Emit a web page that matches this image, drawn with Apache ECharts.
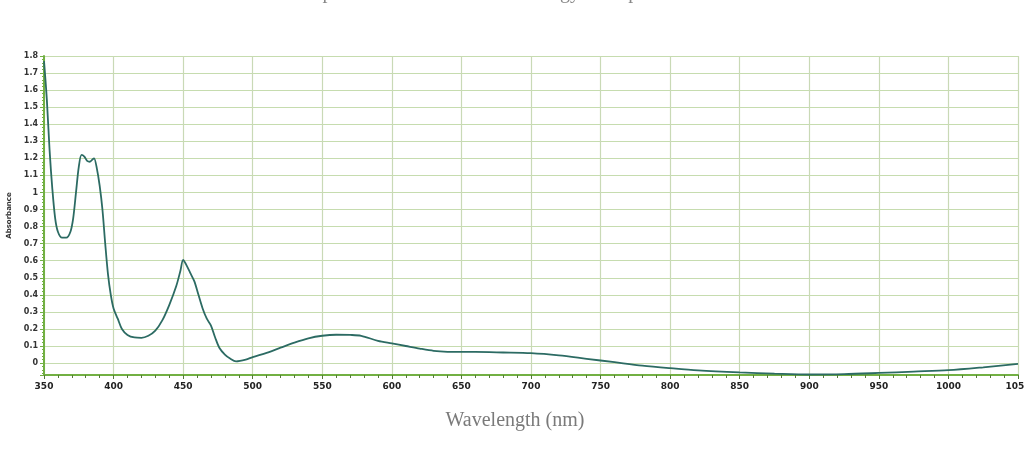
<!DOCTYPE html>
<html style="height: 100%">
    <head>
        <meta charset="utf-8">
    </head>
    <body style="height: 100%; margin: 0; background: #fff">
        <div id="container" style="height: 100%"></div>

        <script type="text/javascript" src="https://cdn.jsdelivr.net/npm/echarts@6/dist/echarts.min.js"></script>
        <script type="text/javascript">

// wavelength (nm) and absorbance
var wavelengths = [350, 352, 354, 356, 358, 360, 363, 366, 369, 371, 373, 375, 377, 379, 381, 383, 385, 386, 388, 390,
    392, 394, 396, 398, 400, 403, 406, 410, 415, 420, 425, 430, 435, 440, 445, 448, 450, 452, 455, 458,
    461, 464, 467, 470, 473, 476, 480, 484, 488, 495, 500, 510, 520, 530, 540, 550, 560, 570, 578, 590,
    600, 610, 620, 630, 640, 650, 660, 680, 700, 720, 740, 760, 780, 800, 820, 850, 875, 900, 925, 950,
    975, 1000, 1025, 1050];
var absorbance = [1.77, 1.55, 1.25, 1.02, 0.85, 0.77, 0.735, 0.735, 0.77, 0.85, 1.00, 1.15, 1.22, 1.21, 1.185, 1.18, 1.195, 1.20, 1.14, 1.04,
    0.90, 0.70, 0.52, 0.40, 0.32, 0.26, 0.20, 0.165, 0.15, 0.148, 0.16, 0.19, 0.25, 0.34, 0.45, 0.54, 0.605, 0.58, 0.53, 0.48,
    0.40, 0.32, 0.26, 0.22, 0.15, 0.09, 0.05, 0.025, 0.01, 0.02, 0.035, 0.06, 0.09, 0.12, 0.145, 0.16, 0.166, 0.165, 0.16, 0.13,
    0.115, 0.10, 0.085, 0.072, 0.066, 0.065, 0.065, 0.062, 0.058, 0.045, 0.025, 0.005, -0.015, -0.03, -0.043, -0.055, -0.062, -0.067, -0.065, -0.058,
    -0.05, -0.042, -0.025, -0.005];

var xMin = 350, xMax = 1050, xStep = 50;
var yMin = -0.07, yMax = 1.8;

var dom = document.getElementById("container");
var myChart = echarts.init(dom);

var points = wavelengths.map(function (w, i) { return [w, absorbance[i]]; });

var axisGreen = '#72b043';
var labelFont = 'DejaVu Sans';

option = {
    animation: false,
    grid: { left: 44, right: 6, top: 56, bottom: 84, outerBoundsMode: 'none', containLabel: false },
    graphic: [
        {
            // caption above the chart, cut off by the top edge
            type: 'text',
            x: 214,
            y: 3,
            style: {
                text: 'UV-Vis absorption of the dimer at low energy absorption band',
                font: '20px "Liberation Serif"',
                fill: '#888',
                align: 'left',
                verticalAlign: 'bottom'
            }
        },
        {
            type: 'text',
            x: 515,
            y: 421,
            style: {
                text: 'Wavelength (nm)',
                font: '20px "Liberation Serif"',
                fill: '#7a7a7a',
                align: 'center',
                verticalAlign: 'middle'
            }
        }
    ],
    xAxis: {
        type: 'value',
        min: xMin,
        max: xMax,
        interval: xStep,
        axisLine: { onZero: false, lineStyle: { color: axisGreen, width: 2 } },
        axisTick: { length: 4, lineStyle: { color: '#557a38' } },
        minorTick: { show: true, splitNumber: 5, length: 3, lineStyle: { color: '#557a38' } },
        axisLabel: {
            color: '#222', fontFamily: labelFont, fontWeight: 'bold', fontSize: 9, margin: 7,
            formatter: function (v) { return String(v); }
        },
        splitLine: { show: true, lineStyle: { color: '#c9d9b6', width: 1.2 } }
    },
    yAxis: {
        type: 'value',
        min: yMin,
        max: yMax,
        splitNumber: 19,
        name: 'Absorbance',
        nameLocation: 'middle',
        nameRotate: 90,
        nameGap: 31,
        nameTextStyle: { color: '#333', fontFamily: labelFont, fontWeight: 'bold', fontSize: 7 },
        axisLine: { show: true, lineStyle: { color: axisGreen, width: 2 } },
        axisTick: { length: 4, lineStyle: { color: axisGreen } },
        minorTick: { show: true, splitNumber: 5, length: 2, lineStyle: { color: axisGreen } },
        axisLabel: {
            color: '#333', fontFamily: labelFont, fontWeight: 'bold', fontSize: 8, margin: 6,
            showMinLabel: false,
            formatter: function (v) { return Math.round(v * 10) / 10 + ''; }
        },
        splitLine: { show: true, lineStyle: { color: '#c6dcaf', width: 1.2 } }
    },
    series: [
        {
            type: 'line',
            data: points,
            smooth: 0.3,
            showSymbol: false,
            lineStyle: { color: '#2c6b63', width: 1.8 }
        }
    ]
};

if (option && typeof option === 'object') {
    myChart.setOption(option);
}

        </script>
    </body>
</html>
